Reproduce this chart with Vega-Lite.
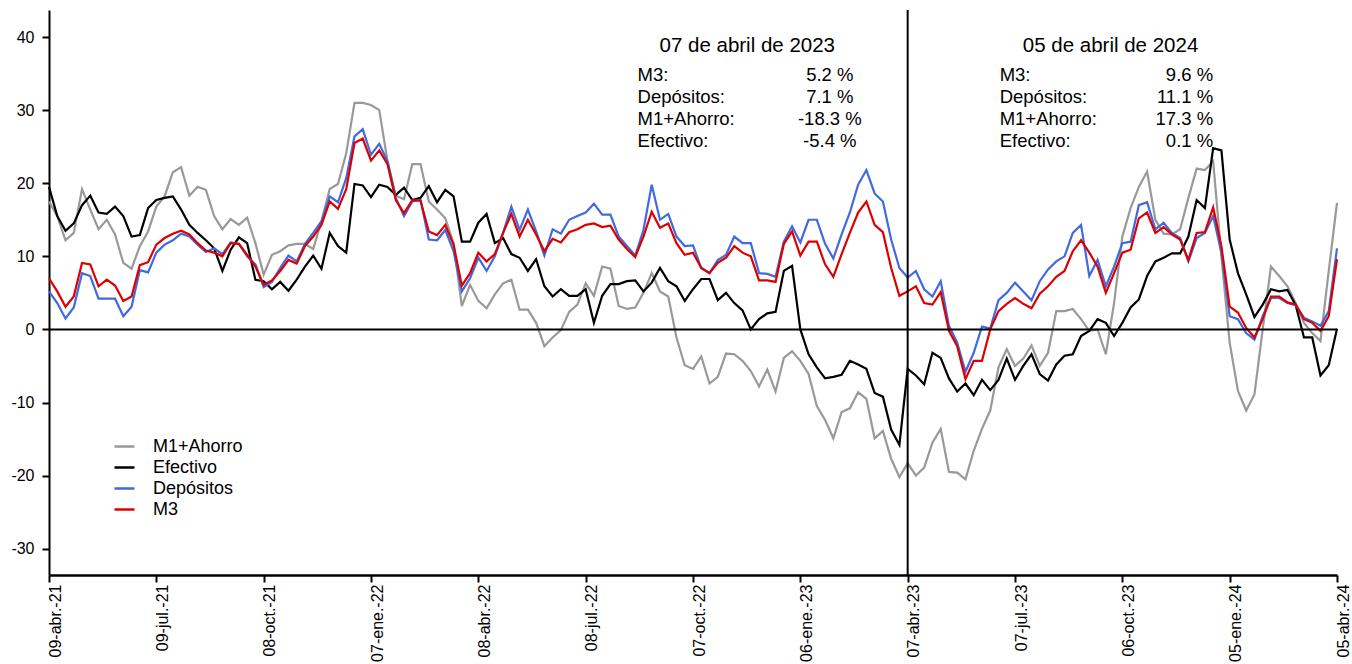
{
  "$schema": "https://vega.github.io/schema/vega-lite/v6.json",
  "width": 1288,
  "height": 565,
  "autosize": {"type": "none"},
  "padding": {"left": 49, "top": 10, "right": 15, "bottom": 89},
  "background": "white",
  "config": {
    "view": {"stroke": null},
    "font": "Liberation Sans",
    "axis": {"grid": false, "labelColor": "black", "tickColor": "black", "domainColor": "black", "labelFont": "Liberation Sans"}
  },
  "datasets": {
    "m": [
      {"fecha": "2021-04-09", "M1+Ahorro": 17.5, "Efectivo": 19.5, "Depósitos": 5.2, "M3": 7},
      {"fecha": "2021-04-16", "M1+Ahorro": 15.5, "Efectivo": 15.5, "Depósitos": 3.6, "M3": 5.2},
      {"fecha": "2021-04-23", "M1+Ahorro": 12.2, "Efectivo": 13.5, "Depósitos": 1.5, "M3": 3.1},
      {"fecha": "2021-04-30", "M1+Ahorro": 13.2, "Efectivo": 14.5, "Depósitos": 3, "M3": 4.5},
      {"fecha": "2021-05-07", "M1+Ahorro": 19.2, "Efectivo": 17, "Depósitos": 7.7, "M3": 9.1},
      {"fecha": "2021-05-14", "M1+Ahorro": 16.4, "Efectivo": 18.3, "Depósitos": 7.3, "M3": 8.9},
      {"fecha": "2021-05-21", "M1+Ahorro": 13.7, "Efectivo": 16, "Depósitos": 4.2, "M3": 5.9},
      {"fecha": "2021-05-28", "M1+Ahorro": 15, "Efectivo": 15.8, "Depósitos": 4.2, "M3": 6.8},
      {"fecha": "2021-06-04", "M1+Ahorro": 13, "Efectivo": 16.8, "Depósitos": 4.2, "M3": 6},
      {"fecha": "2021-06-11", "M1+Ahorro": 9.1, "Efectivo": 15.5, "Depósitos": 1.8, "M3": 3.9},
      {"fecha": "2021-06-18", "M1+Ahorro": 8.3, "Efectivo": 12.7, "Depósitos": 3.1, "M3": 4.5},
      {"fecha": "2021-06-25", "M1+Ahorro": 11.4, "Efectivo": 12.9, "Depósitos": 8.1, "M3": 8.8},
      {"fecha": "2021-07-02", "M1+Ahorro": 13.4, "Efectivo": 16.6, "Depósitos": 7.8, "M3": 9.2},
      {"fecha": "2021-07-09", "M1+Ahorro": 16.8, "Efectivo": 17.7, "Depósitos": 10.5, "M3": 11.6},
      {"fecha": "2021-07-16", "M1+Ahorro": 18.2, "Efectivo": 18, "Depósitos": 11.6, "M3": 12.5},
      {"fecha": "2021-07-23", "M1+Ahorro": 21.5, "Efectivo": 18.2, "Depósitos": 12.2, "M3": 13.1},
      {"fecha": "2021-07-30", "M1+Ahorro": 22.2, "Efectivo": 16.4, "Depósitos": 13.1, "M3": 13.5},
      {"fecha": "2021-08-06", "M1+Ahorro": 18.3, "Efectivo": 14.3, "Depósitos": 12.7, "M3": 13},
      {"fecha": "2021-08-13", "M1+Ahorro": 19.5, "Efectivo": 13.2, "Depósitos": 11.6, "M3": 11.8},
      {"fecha": "2021-08-20", "M1+Ahorro": 19.1, "Efectivo": 12.2, "Depósitos": 10.6, "M3": 10.8},
      {"fecha": "2021-08-27", "M1+Ahorro": 15.5, "Efectivo": 11.1, "Depósitos": 11.1, "M3": 10.5},
      {"fecha": "2021-09-03", "M1+Ahorro": 13.7, "Efectivo": 8, "Depósitos": 10.3, "M3": 10},
      {"fecha": "2021-09-10", "M1+Ahorro": 15.1, "Efectivo": 10.9, "Depósitos": 11.9, "M3": 11.8},
      {"fecha": "2021-09-17", "M1+Ahorro": 14.3, "Efectivo": 12.6, "Depósitos": 11.7, "M3": 11.7},
      {"fecha": "2021-09-24", "M1+Ahorro": 15.3, "Efectivo": 11.8, "Depósitos": 10, "M3": 10.2},
      {"fecha": "2021-10-01", "M1+Ahorro": 11.8, "Efectivo": 6.8, "Depósitos": 8.9, "M3": 8.6},
      {"fecha": "2021-10-08", "M1+Ahorro": 7.5, "Efectivo": 6.6, "Depósitos": 5.8, "M3": 6.1},
      {"fecha": "2021-10-15", "M1+Ahorro": 10.2, "Efectivo": 5.5, "Depósitos": 6.5, "M3": 6.7},
      {"fecha": "2021-10-22", "M1+Ahorro": 10.7, "Efectivo": 6.5, "Depósitos": 8.4, "M3": 8},
      {"fecha": "2021-10-29", "M1+Ahorro": 11.5, "Efectivo": 5.3, "Depósitos": 10.1, "M3": 9.5},
      {"fecha": "2021-11-05", "M1+Ahorro": 11.7, "Efectivo": 6.8, "Depósitos": 9.3, "M3": 9},
      {"fecha": "2021-11-12", "M1+Ahorro": 11.7, "Efectivo": 8.6, "Depósitos": 11.7, "M3": 11.4},
      {"fecha": "2021-11-19", "M1+Ahorro": 11, "Efectivo": 10.1, "Depósitos": 13.2, "M3": 12.7},
      {"fecha": "2021-11-26", "M1+Ahorro": 14.8, "Efectivo": 8.3, "Depósitos": 14.8, "M3": 14.3},
      {"fecha": "2021-12-03", "M1+Ahorro": 19.2, "Efectivo": 13.2, "Depósitos": 18.2, "M3": 17.5},
      {"fecha": "2021-12-10", "M1+Ahorro": 19.9, "Efectivo": 11.4, "Depósitos": 17.4, "M3": 16.5},
      {"fecha": "2021-12-17", "M1+Ahorro": 24.1, "Efectivo": 10.5, "Depósitos": 20.7, "M3": 19.2},
      {"fecha": "2021-12-24", "M1+Ahorro": 31, "Efectivo": 19.9, "Depósitos": 26.4, "M3": 25.5},
      {"fecha": "2021-12-31", "M1+Ahorro": 31, "Efectivo": 19.7, "Depósitos": 27.4, "M3": 26.1},
      {"fecha": "2022-01-07", "M1+Ahorro": 30.7, "Efectivo": 18.1, "Depósitos": 23.9, "M3": 23.1},
      {"fecha": "2022-01-14", "M1+Ahorro": 30, "Efectivo": 19.8, "Depósitos": 25.4, "M3": 24.5},
      {"fecha": "2022-01-21", "M1+Ahorro": 23, "Efectivo": 19.5, "Depósitos": 23, "M3": 22.6},
      {"fecha": "2022-01-28", "M1+Ahorro": 18.3, "Efectivo": 18.4, "Depósitos": 18, "M3": 17.7},
      {"fecha": "2022-02-04", "M1+Ahorro": 17.8, "Efectivo": 19.4, "Depósitos": 15.5, "M3": 15.9},
      {"fecha": "2022-02-11", "M1+Ahorro": 22.6, "Efectivo": 17.7, "Depósitos": 17.5, "M3": 17.7},
      {"fecha": "2022-02-18", "M1+Ahorro": 22.6, "Efectivo": 18, "Depósitos": 17.7, "M3": 17.6},
      {"fecha": "2022-02-25", "M1+Ahorro": 17.5, "Efectivo": 19.6, "Depósitos": 12.3, "M3": 13.4},
      {"fecha": "2022-03-04", "M1+Ahorro": 16.4, "Efectivo": 17.4, "Depósitos": 12.2, "M3": 12.9},
      {"fecha": "2022-03-11", "M1+Ahorro": 15.2, "Efectivo": 19.1, "Depósitos": 13.6, "M3": 14.3},
      {"fecha": "2022-03-18", "M1+Ahorro": 11.8, "Efectivo": 18.2, "Depósitos": 10.7, "M3": 11.6},
      {"fecha": "2022-03-25", "M1+Ahorro": 3.2, "Efectivo": 12, "Depósitos": 5.2, "M3": 6},
      {"fecha": "2022-04-01", "M1+Ahorro": 6.1, "Efectivo": 12, "Depósitos": 7, "M3": 7.7},
      {"fecha": "2022-04-08", "M1+Ahorro": 3.9, "Efectivo": 14.6, "Depósitos": 9.8, "M3": 10.5},
      {"fecha": "2022-04-15", "M1+Ahorro": 2.9, "Efectivo": 15.8, "Depósitos": 8, "M3": 9.3},
      {"fecha": "2022-04-22", "M1+Ahorro": 4.8, "Efectivo": 11.8, "Depósitos": 10, "M3": 10.3},
      {"fecha": "2022-04-29", "M1+Ahorro": 6.3, "Efectivo": 12.5, "Depósitos": 13.2, "M3": 13.2},
      {"fecha": "2022-05-06", "M1+Ahorro": 6.8, "Efectivo": 10.3, "Depósitos": 16.8, "M3": 15.8},
      {"fecha": "2022-05-13", "M1+Ahorro": 2.7, "Efectivo": 9.8, "Depósitos": 13.6, "M3": 12.7},
      {"fecha": "2022-05-20", "M1+Ahorro": 2.7, "Efectivo": 8, "Depósitos": 16.4, "M3": 15},
      {"fecha": "2022-05-27", "M1+Ahorro": 0.9, "Efectivo": 9.6, "Depósitos": 13.4, "M3": 13},
      {"fecha": "2022-06-03", "M1+Ahorro": -2.3, "Efectivo": 5.9, "Depósitos": 10.1, "M3": 10.7},
      {"fecha": "2022-06-10", "M1+Ahorro": -1.1, "Efectivo": 4.5, "Depósitos": 13.7, "M3": 12.4},
      {"fecha": "2022-06-17", "M1+Ahorro": -0.1, "Efectivo": 5.5, "Depósitos": 13.1, "M3": 11.9},
      {"fecha": "2022-06-24", "M1+Ahorro": 2.4, "Efectivo": 4.6, "Depósitos": 15, "M3": 13.3},
      {"fecha": "2022-07-01", "M1+Ahorro": 3.4, "Efectivo": 4.6, "Depósitos": 15.5, "M3": 13.7},
      {"fecha": "2022-07-08", "M1+Ahorro": 6.3, "Efectivo": 5.5, "Depósitos": 16, "M3": 14.3},
      {"fecha": "2022-07-15", "M1+Ahorro": 4.6, "Efectivo": 0.9, "Depósitos": 17.2, "M3": 14.5},
      {"fecha": "2022-07-22", "M1+Ahorro": 8.6, "Efectivo": 4.6, "Depósitos": 15.7, "M3": 14},
      {"fecha": "2022-07-29", "M1+Ahorro": 8.3, "Efectivo": 6.2, "Depósitos": 15.7, "M3": 14.2},
      {"fecha": "2022-08-05", "M1+Ahorro": 3.2, "Efectivo": 6.2, "Depósitos": 12.7, "M3": 12.3},
      {"fecha": "2022-08-12", "M1+Ahorro": 2.8, "Efectivo": 6.6, "Depósitos": 11.4, "M3": 11},
      {"fecha": "2022-08-19", "M1+Ahorro": 3, "Efectivo": 6.7, "Depósitos": 10.1, "M3": 9.9},
      {"fecha": "2022-08-26", "M1+Ahorro": 5, "Efectivo": 5.2, "Depósitos": 13.6, "M3": 12.7},
      {"fecha": "2022-09-02", "M1+Ahorro": 7.7, "Efectivo": 6.4, "Depósitos": 19.8, "M3": 16.1},
      {"fecha": "2022-09-09", "M1+Ahorro": 5.2, "Efectivo": 8.4, "Depósitos": 15, "M3": 13.9},
      {"fecha": "2022-09-16", "M1+Ahorro": 4.5, "Efectivo": 6.6, "Depósitos": 15.8, "M3": 14.5},
      {"fecha": "2022-09-23", "M1+Ahorro": -1.1, "Efectivo": 5.9, "Depósitos": 12.7, "M3": 11.8},
      {"fecha": "2022-09-30", "M1+Ahorro": -4.9, "Efectivo": 3.9, "Depósitos": 11.4, "M3": 10.2},
      {"fecha": "2022-10-07", "M1+Ahorro": -5.4, "Efectivo": 5.5, "Depósitos": 11.5, "M3": 10.5},
      {"fecha": "2022-10-14", "M1+Ahorro": -3.7, "Efectivo": 6.9, "Depósitos": 8.4, "M3": 8.4},
      {"fecha": "2022-10-21", "M1+Ahorro": -7.4, "Efectivo": 6.9, "Depósitos": 7.7, "M3": 7.7},
      {"fecha": "2022-10-28", "M1+Ahorro": -6.5, "Efectivo": 4, "Depósitos": 9.5, "M3": 9.1},
      {"fecha": "2022-11-04", "M1+Ahorro": -3.3, "Efectivo": 5, "Depósitos": 10.2, "M3": 9.8},
      {"fecha": "2022-11-11", "M1+Ahorro": -3.4, "Efectivo": 3.6, "Depósitos": 12.7, "M3": 11.4},
      {"fecha": "2022-11-18", "M1+Ahorro": -4.3, "Efectivo": 2.6, "Depósitos": 11.8, "M3": 10.5},
      {"fecha": "2022-11-25", "M1+Ahorro": -5.7, "Efectivo": 0, "Depósitos": 11.8, "M3": 10},
      {"fecha": "2022-12-02", "M1+Ahorro": -7.8, "Efectivo": 1.4, "Depósitos": 7.7, "M3": 6.7},
      {"fecha": "2022-12-09", "M1+Ahorro": -5.5, "Efectivo": 2.2, "Depósitos": 7.6, "M3": 6.7},
      {"fecha": "2022-12-16", "M1+Ahorro": -8.5, "Efectivo": 2.4, "Depósitos": 7.2, "M3": 6.5},
      {"fecha": "2022-12-23", "M1+Ahorro": -3.9, "Efectivo": 8, "Depósitos": 12, "M3": 11.7},
      {"fecha": "2022-12-30", "M1+Ahorro": -3, "Efectivo": 8.7, "Depósitos": 14.1, "M3": 13.4},
      {"fecha": "2023-01-06", "M1+Ahorro": -4.3, "Efectivo": 0, "Depósitos": 11.9, "M3": 10.1},
      {"fecha": "2023-01-13", "M1+Ahorro": -6.1, "Efectivo": -3.4, "Depósitos": 15, "M3": 12},
      {"fecha": "2023-01-20", "M1+Ahorro": -10.5, "Efectivo": -5.2, "Depósitos": 15, "M3": 12},
      {"fecha": "2023-01-27", "M1+Ahorro": -12.4, "Efectivo": -6.7, "Depósitos": 11.7, "M3": 8.9},
      {"fecha": "2023-02-03", "M1+Ahorro": -14.9, "Efectivo": -6.5, "Depósitos": 9.7, "M3": 7.2},
      {"fecha": "2023-02-10", "M1+Ahorro": -11.3, "Efectivo": -6.2, "Depósitos": 13, "M3": 10.3},
      {"fecha": "2023-02-17", "M1+Ahorro": -10.8, "Efectivo": -4.3, "Depósitos": 16, "M3": 13.2},
      {"fecha": "2023-02-24", "M1+Ahorro": -8.6, "Efectivo": -4.8, "Depósitos": 19.8, "M3": 16},
      {"fecha": "2023-03-03", "M1+Ahorro": -9.5, "Efectivo": -5.4, "Depósitos": 21.8, "M3": 17.5},
      {"fecha": "2023-03-10", "M1+Ahorro": -14.9, "Efectivo": -8.7, "Depósitos": 18.6, "M3": 14.3},
      {"fecha": "2023-03-17", "M1+Ahorro": -13.9, "Efectivo": -9.2, "Depósitos": 17.5, "M3": 13.3},
      {"fecha": "2023-03-24", "M1+Ahorro": -17.7, "Efectivo": -13.7, "Depósitos": 12.3, "M3": 8.4},
      {"fecha": "2023-03-31", "M1+Ahorro": -20.2, "Efectivo": -15.8, "Depósitos": 8.4, "M3": 4.6},
      {"fecha": "2023-04-07", "M1+Ahorro": -18.3, "Efectivo": -5.4, "Depósitos": 7.1, "M3": 5.2},
      {"fecha": "2023-04-14", "M1+Ahorro": -20, "Efectivo": -6.3, "Depósitos": 8, "M3": 5.9},
      {"fecha": "2023-04-21", "M1+Ahorro": -18.9, "Efectivo": -7.5, "Depósitos": 5.5, "M3": 3.6},
      {"fecha": "2023-04-28", "M1+Ahorro": -15.5, "Efectivo": -3.2, "Depósitos": 4.5, "M3": 3.4},
      {"fecha": "2023-05-05", "M1+Ahorro": -13.6, "Efectivo": -3.9, "Depósitos": 6.6, "M3": 5.1},
      {"fecha": "2023-05-12", "M1+Ahorro": -19.5, "Efectivo": -6.7, "Depósitos": 0.5, "M3": -0.2},
      {"fecha": "2023-05-19", "M1+Ahorro": -19.6, "Efectivo": -8.5, "Depósitos": -1.8, "M3": -2.3},
      {"fecha": "2023-05-26", "M1+Ahorro": -20.5, "Efectivo": -7.4, "Depósitos": -5.8, "M3": -6.8},
      {"fecha": "2023-06-02", "M1+Ahorro": -16.6, "Efectivo": -9, "Depósitos": -3.2, "M3": -4.3},
      {"fecha": "2023-06-09", "M1+Ahorro": -13.6, "Efectivo": -6.9, "Depósitos": 0.4, "M3": -4.3},
      {"fecha": "2023-06-16", "M1+Ahorro": -11.1, "Efectivo": -8.3, "Depósitos": 0.1, "M3": 0},
      {"fecha": "2023-06-23", "M1+Ahorro": -5.2, "Efectivo": -6.9, "Depósitos": 4, "M3": 2.5},
      {"fecha": "2023-06-30", "M1+Ahorro": -2.7, "Efectivo": -4, "Depósitos": 5, "M3": 3.5},
      {"fecha": "2023-07-07", "M1+Ahorro": -5, "Efectivo": -6.9, "Depósitos": 6.4, "M3": 4.3},
      {"fecha": "2023-07-14", "M1+Ahorro": -4, "Efectivo": -5, "Depósitos": 5.2, "M3": 3.5},
      {"fecha": "2023-07-21", "M1+Ahorro": -2.2, "Efectivo": -3.4, "Depósitos": 4, "M3": 2.9},
      {"fecha": "2023-07-28", "M1+Ahorro": -5, "Efectivo": -6.1, "Depósitos": 6.6, "M3": 4.9},
      {"fecha": "2023-08-04", "M1+Ahorro": -3.2, "Efectivo": -7, "Depósitos": 8.2, "M3": 5.9},
      {"fecha": "2023-08-11", "M1+Ahorro": 2.5, "Efectivo": -4.8, "Depósitos": 9.3, "M3": 7.2},
      {"fecha": "2023-08-18", "M1+Ahorro": 2.5, "Efectivo": -3.6, "Depósitos": 10, "M3": 8},
      {"fecha": "2023-08-25", "M1+Ahorro": 2.8, "Efectivo": -3.4, "Depósitos": 13.2, "M3": 10.7},
      {"fecha": "2023-09-01", "M1+Ahorro": 1.4, "Efectivo": -0.9, "Depósitos": 14.3, "M3": 12.2},
      {"fecha": "2023-09-08", "M1+Ahorro": -0.2, "Efectivo": -0.2, "Depósitos": 7.3, "M3": 10.5},
      {"fecha": "2023-09-15", "M1+Ahorro": 0, "Efectivo": 1.4, "Depósitos": 9.5, "M3": 8.6},
      {"fecha": "2023-09-22", "M1+Ahorro": -3.4, "Efectivo": 0.9, "Depósitos": 5.9, "M3": 5},
      {"fecha": "2023-09-29", "M1+Ahorro": 3.6, "Efectivo": -0.9, "Depósitos": 8.6, "M3": 7.7},
      {"fecha": "2023-10-06", "M1+Ahorro": 12.7, "Efectivo": 0.9, "Depósitos": 11.8, "M3": 10.5},
      {"fecha": "2023-10-13", "M1+Ahorro": 16.6, "Efectivo": 3, "Depósitos": 12, "M3": 10.9},
      {"fecha": "2023-10-20", "M1+Ahorro": 19.5, "Efectivo": 4.1, "Depósitos": 17, "M3": 15.2},
      {"fecha": "2023-10-27", "M1+Ahorro": 21.6, "Efectivo": 7.3, "Depósitos": 17.4, "M3": 16},
      {"fecha": "2023-11-03", "M1+Ahorro": 15, "Efectivo": 9.3, "Depósitos": 13.7, "M3": 13.2},
      {"fecha": "2023-11-10", "M1+Ahorro": 13.1, "Efectivo": 9.8, "Depósitos": 14.6, "M3": 14},
      {"fecha": "2023-11-17", "M1+Ahorro": 13, "Efectivo": 10.4, "Depósitos": 13.2, "M3": 13},
      {"fecha": "2023-11-24", "M1+Ahorro": 13.7, "Efectivo": 10.4, "Depósitos": 12.5, "M3": 12.3},
      {"fecha": "2023-12-01", "M1+Ahorro": 18, "Efectivo": 12.7, "Depósitos": 9.3, "M3": 9.5},
      {"fecha": "2023-12-08", "M1+Ahorro": 22, "Efectivo": 17.7, "Depósitos": 12.5, "M3": 13.2},
      {"fecha": "2023-12-15", "M1+Ahorro": 21.8, "Efectivo": 16.6, "Depósitos": 13.2, "M3": 13.3},
      {"fecha": "2023-12-22", "M1+Ahorro": 23, "Efectivo": 24.8, "Depósitos": 15.5, "M3": 16.7},
      {"fecha": "2023-12-29", "M1+Ahorro": 10, "Efectivo": 24.5, "Depósitos": 10.5, "M3": 11.4},
      {"fecha": "2024-01-05", "M1+Ahorro": -1.8, "Efectivo": 12.3, "Depósitos": 1.8, "M3": 3.1},
      {"fecha": "2024-01-12", "M1+Ahorro": -8.4, "Efectivo": 7.7, "Depósitos": 1.4, "M3": 2.3},
      {"fecha": "2024-01-19", "M1+Ahorro": -11.1, "Efectivo": 4.8, "Depósitos": -0.5, "M3": 0.2},
      {"fecha": "2024-01-26", "M1+Ahorro": -8.9, "Efectivo": 1.7, "Depósitos": -1.4, "M3": -1.1},
      {"fecha": "2024-02-02", "M1+Ahorro": 0, "Efectivo": 3.4, "Depósitos": 1.8, "M3": 1.4},
      {"fecha": "2024-02-09", "M1+Ahorro": 8.6, "Efectivo": 5.5, "Depósitos": 4.3, "M3": 4.5},
      {"fecha": "2024-02-16", "M1+Ahorro": 7.3, "Efectivo": 5.2, "Depósitos": 4.3, "M3": 4.5},
      {"fecha": "2024-02-23", "M1+Ahorro": 5.9, "Efectivo": 5.4, "Depósitos": 3.6, "M3": 3.7},
      {"fecha": "2024-03-01", "M1+Ahorro": 3.6, "Efectivo": 3.3, "Depósitos": 3.3, "M3": 3.4},
      {"fecha": "2024-03-08", "M1+Ahorro": 0.9, "Efectivo": -1.1, "Depósitos": 1.6, "M3": 1.4},
      {"fecha": "2024-03-15", "M1+Ahorro": -0.5, "Efectivo": -1.1, "Depósitos": 1.1, "M3": 0.9},
      {"fecha": "2024-03-22", "M1+Ahorro": -1.6, "Efectivo": -6.3, "Depósitos": 0.5, "M3": -0.2},
      {"fecha": "2024-03-29", "M1+Ahorro": 8, "Efectivo": -4.9, "Depósitos": 2.5, "M3": 1.8},
      {"fecha": "2024-04-05", "M1+Ahorro": 17.3, "Efectivo": 0.1, "Depósitos": 11.1, "M3": 9.6}
    ]
  },
  "layer": [
    {
      "data": {"name": "m"},
      "transform": [{"fold": ["M1+Ahorro", "Efectivo", "Depósitos", "M3"], "as": ["serie", "valor"]}],
      "mark": {"type": "line", "strokeWidth": 2.2},
      "encoding": {
        "x": {
          "field": "fecha",
          "type": "temporal",
          "scale": {
            "type": "utc",
            "domain": [
              {"year": 2021, "month": 4, "date": 9, "utc": true},
              {"year": 2024, "month": 4, "date": 5, "utc": true}
            ],
            "nice": false,
            "padding": 0
          },
          "axis": {
            "title": null,
            "values": [
              {"year": 2021, "month": 4, "date": 9, "utc": true},
              {"year": 2021, "month": 7, "date": 9, "utc": true},
              {"year": 2021, "month": 10, "date": 8, "utc": true},
              {"year": 2022, "month": 1, "date": 7, "utc": true},
              {"year": 2022, "month": 4, "date": 8, "utc": true},
              {"year": 2022, "month": 7, "date": 8, "utc": true},
              {"year": 2022, "month": 10, "date": 7, "utc": true},
              {"year": 2023, "month": 1, "date": 6, "utc": true},
              {"year": 2023, "month": 4, "date": 7, "utc": true},
              {"year": 2023, "month": 7, "date": 7, "utc": true},
              {"year": 2023, "month": 10, "date": 6, "utc": true},
              {"year": 2024, "month": 1, "date": 5, "utc": true},
              {"year": 2024, "month": 4, "date": 5, "utc": true}
            ],
            "labelExpr": "utcFormat(datum.value, '%d') + '-' + ['ene','feb','mar','abr','may','jun','jul','ago','sep','oct','nov','dic'][utcmonth(datum.value)] + '.-' + utcFormat(datum.value, '%y')",
            "labelAngle": -90,
            "labelFontSize": 16,
            "labelPadding": 2,
            "labelOffset": 6,
            "labelFlush": false,
            "labelOverlap": false,
            "labelBound": false,
            "tickSize": 7,
            "tickWidth": 2,
            "domainWidth": 2.5
          }
        },
        "y": {
          "field": "valor",
          "type": "quantitative",
          "scale": {"domain": [-33.6, 43.7], "nice": false, "zero": false},
          "axis": {
            "title": null,
            "values": [-30, -20, -10, 0, 10, 20, 30, 40],
            "labelExpr": "'' + datum.value",
            "labelFontSize": 16,
            "labelPadding": 8,
            "tickSize": 7,
            "tickWidth": 2,
            "domainWidth": 2
          }
        },
        "color": {
          "field": "serie",
          "type": "nominal",
          "scale": {
            "domain": ["M1+Ahorro", "Efectivo", "Depósitos", "M3"],
            "range": ["#999999", "#000000", "#4169e1", "#dd0000"]
          },
          "legend": {
            "title": null,
            "orient": "none",
            "legendX": 64,
            "legendY": 425,
            "symbolType": "stroke",
            "symbolSize": 400,
            "symbolStrokeWidth": 2.5,
            "labelFontSize": 18,
            "labelFont": "Liberation Sans",
            "labelColor": "black",
            "labelOffset": 17,
            "rowPadding": -2,
            "padding": 0
          }
        }
      }
    },
    {
      "data": {"values": [{}]},
      "mark": {"type": "rule", "color": "black", "strokeWidth": 2},
      "encoding": {"y": {"datum": 0}}
    },
    {
      "data": {"values": [{}]},
      "mark": {"type": "rule", "color": "black", "strokeWidth": 2},
      "encoding": {"x": {"datum": {"year": 2023, "month": 4, "date": 7, "utc": true}, "type": "temporal"}}
    },
    {
      "data": {"values": [{}]},
      "mark": {"type": "text", "text": "07 de abril de 2023", "fontSize": 20.5, "align": "center", "baseline": "alphabetic", "font": "Liberation Sans", "color": "black"},
      "encoding": {
        "x": {"datum": {"year": 2022, "month": 11, "date": 22, "utc": true}, "type": "temporal"},
        "y": {"datum": 37.9}
      }
    },
    {
      "data": {"values": [{}]},
      "mark": {"type": "text", "text": ["M3:", "Depósitos:", "M1+Ahorro:", "Efectivo:"], "lineHeight": 22, "fontSize": 18.5, "align": "left", "baseline": "alphabetic", "font": "Liberation Sans", "color": "black"},
      "encoding": {
        "x": {"datum": {"year": 2022, "month": 8, "date": 21, "utc": true}, "type": "temporal"},
        "y": {"datum": 34.0}
      }
    },
    {
      "data": {"values": [{}]},
      "mark": {"type": "text", "text": ["5.2 %", "7.1 %", "-18.3 %", "-5.4 %"], "lineHeight": 22, "fontSize": 18.5, "align": "center", "baseline": "alphabetic", "font": "Liberation Sans", "color": "black"},
      "encoding": {
        "x": {"datum": {"year": 2023, "month": 1, "date": 31, "utc": true}, "type": "temporal"},
        "y": {"datum": 34.0}
      }
    },
    {
      "data": {"values": [{}]},
      "mark": {"type": "text", "text": "05 de abril de 2024", "fontSize": 20.5, "align": "center", "baseline": "alphabetic", "font": "Liberation Sans", "color": "black"},
      "encoding": {
        "x": {"datum": {"year": 2023, "month": 9, "date": 26, "utc": true}, "type": "temporal"},
        "y": {"datum": 37.9}
      }
    },
    {
      "data": {"values": [{}]},
      "mark": {"type": "text", "text": ["M3:", "Depósitos:", "M1+Ahorro:", "Efectivo:"], "lineHeight": 22, "fontSize": 18.5, "align": "left", "baseline": "alphabetic", "font": "Liberation Sans", "color": "black"},
      "encoding": {
        "x": {"datum": {"year": 2023, "month": 6, "date": 24, "utc": true}, "type": "temporal"},
        "y": {"datum": 34.0}
      }
    },
    {
      "data": {"values": [{}]},
      "mark": {"type": "text", "text": ["9.6 %", "11.1 %", "17.3 %", "0.1 %"], "lineHeight": 22, "fontSize": 18.5, "align": "right", "baseline": "alphabetic", "font": "Liberation Sans", "color": "black"},
      "encoding": {
        "x": {"datum": {"year": 2023, "month": 12, "date": 22, "utc": true}, "type": "temporal"},
        "y": {"datum": 34.0}
      }
    }
  ]
}
